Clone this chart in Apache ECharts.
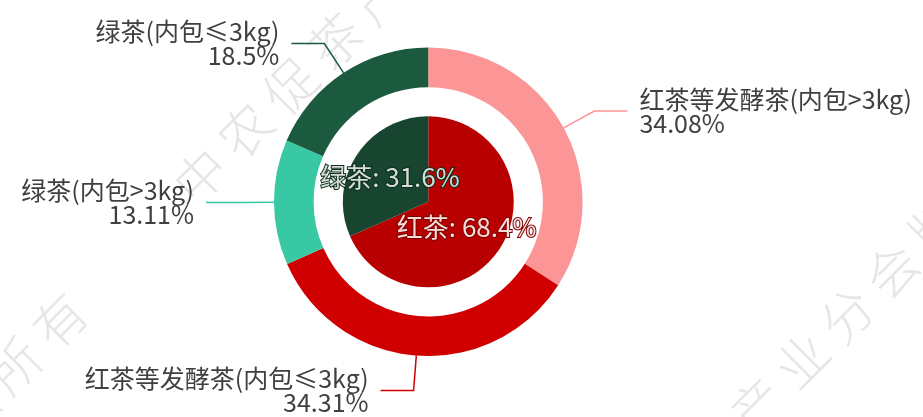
<!DOCTYPE html>
<html>
<head>
<meta charset="utf-8">
<title>茶叶出口结构</title>
<script src="https://cdn.jsdelivr.net/npm/echarts@6/dist/echarts.min.js"></script>
<style>
  html, body { margin: 0; padding: 0; background: #fff; }
  #chart { width: 923px; height: 417px; }
</style>
</head>
<body>
<div id="chart"></div>
<script>
// 内圈：大类
var innerNames = ['红茶', '绿茶'];
var innerValues = [68.4, 31.6];
// 外圈：按包装细分
var outerNames = ['红茶等发酵茶(内包>3kg)', '红茶等发酵茶(内包≤3kg)', '绿茶(内包>3kg)', '绿茶(内包≤3kg)'];
var outerValues = [34.08, 34.31, 13.11, 18.5];
// 水印
var markText = '中 农 促 茶 产 业 分 会 版 权 所 有';

var innerColors = ['#b90000', '#17452f'];
var innerLabelFill = ['#f7dcd7', '#d5ded6'];
var innerLabelBorder = ['#7d0000', '#0d2d1d'];
var outerColors = ['#fc9595', '#d10000', '#38c8a3', '#1b5a3f'];

var chart = echarts.init(document.getElementById('chart'));

var fontCN = '"Noto Sans CJK SC", "Microsoft YaHei", sans-serif';

function markItem(x, y, align) {
  return {
    type: 'text',
    x: x,
    y: y,
    rotation: Math.PI / 4,
    z: -10,
    silent: true,
    style: {
      text: markText,
      fontSize: 52,
      fontWeight: 300,
      fontFamily: fontCN,
      fill: '#e6e6e6',
      align: align,
      textAlign: align,
      verticalAlign: 'middle',
      textVerticalAlign: 'middle'
    }
  };
}

chart.setOption({
  animation: false,
  backgroundColor: '#fff',
  graphic: {
    elements: [
      markItem(182, 194, 'left'),
      markItem(78, 302, 'right'),
      markItem(559, 603, 'left')
    ]
  },
  series: [
    {
      name: '大类',
      type: 'pie',
      center: ['46.4%', '48.4%'],
      radius: [0, '41%'],
      z: 3,
      label: {
        position: 'inner',
        formatter: '{b}: {c}%',
        fontSize: 26,
        fontFamily: fontCN,
        textBorderWidth: 2
      },
      labelLine: { show: false },
      data: innerNames.map(function (n, i) {
        return {
          name: n,
          value: innerValues[i],
          itemStyle: { color: innerColors[i] },
          label: { color: innerLabelFill[i], textBorderColor: innerLabelBorder[i] }
        };
      })
    },
    {
      name: '细分',
      type: 'pie',
      center: ['46.4%', '48.4%'],
      radius: ['55%', '74%'],
      z: 3,
      label: {
        formatter: '{b}\n{c}%',
        fontSize: 25,
        lineHeight: 24,
        color: '#404040',
        fontFamily: fontCN,
        distanceToLabelLine: 12
      },
      labelLine: {
        length: 35,
        length2: 33,
        lineStyle: { width: 1.5 }
      },
      data: outerNames.map(function (n, i) {
        return { name: n, value: outerValues[i], itemStyle: { color: outerColors[i] } };
      })
    }
  ]
});
</script>
</body>
</html>
